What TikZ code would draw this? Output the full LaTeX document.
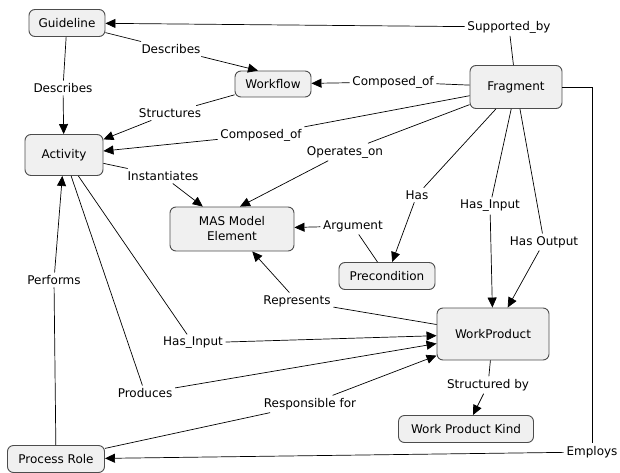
\documentclass[tikz,border=0pt]{standalone}
\usepackage{fontspec}
\setmainfont{DejaVu Sans}
\usetikzlibrary{arrows.meta}

\begin{document}
\begin{tikzpicture}[x=1pt, y=-1pt,
    concept/.style={rectangle, rounded corners=6pt, draw=black!70, line width=0.9pt, fill=black!6, align=center, inner sep=2pt},
    linkname/.style={inner sep=2.5pt},
    font=\fontsize{12}{15}\selectfont,
    every path/.style={line width=0.7pt},
    >={Triangle[length=10pt,width=9pt]}]
    \useasboundingbox (0,0) rectangle (620,473);

    % Draw nodes
    \node[concept, minimum width=76pt, minimum height=27pt] (gl) at (67,23) {Guideline};
    \node[concept, minimum width=76pt, minimum height=26pt] (wf) at (273,84) {Workflow};
    \node[concept, minimum width=92pt, minimum height=43pt] (fr) at (516,87) {Fragment};
    \node[concept, minimum width=78pt, minimum height=41pt] (act) at (64,155) {Activity};
    \node[concept, minimum width=124pt, minimum height=44pt] (mas) at (232,229) {MAS Model\\Element};
    \node[concept, minimum width=96pt, minimum height=27pt] (pre) at (387,276) {Precondition};
    \node[concept, minimum width=112pt, minimum height=52pt] (wp) at (493,334) {WorkProduct};
    \node[concept, minimum width=135pt, minimum height=27pt] (wpk) at (466,429) {Work Product Kind};
    \node[concept, minimum width=97pt, minimum height=27pt] (pr) at (56,459) {Process Role};

    % Labels
    \node[linkname] (supBy) at (509,27) {Supported\_by};
    \node[linkname] (desWf) at (171,49) {Describes};
    \node[linkname] (desAct) at (63,88) {Describes};
    \node[linkname] (compWf) at (393,82) {Composed\_of};
    \node[linkname] (struct) at (170,113) {Structures};
    \node[linkname] (compAct) at (261,135) {Composed\_of};
    \node[linkname] (oper) at (345,152) {Operates\_on};
    \node[linkname] (inst) at (163,176) {Instantiates};
    \node[linkname] (has) at (417,195) {Has};
    \node[linkname] (hasIn) at (490,206) {Has\_Input};
    \node[linkname] (hasOut) at (544,242) {Has Output};
    \node[linkname] (arg) at (353,226) {Argument};
    \node[linkname] (rep) at (297,301) {Represents};
    \node[linkname] (actIn) at (193,343) {Has\_Input};
    \node[linkname] (prod) at (145,393) {Produces};
    \node[linkname] (resp) at (310,404) {Responsible for};
    \node[linkname] (perf) at (54,280) {Performs};
    \node[linkname] (strBy) at (488,385) {Structured by};
    \node[linkname] (emp) at (592,452) {Employs};

    % Draw connections
    \draw (fr) -- (supBy);
    \draw[->] (supBy) -- (gl);
    \draw (gl) -- (desWf);
    \draw[->] (desWf) -- ([xshift=-15pt]wf.north);
    \draw (gl) -- (desAct);
    \draw[->] (desAct) -- (act);
    \draw (fr) -- (compWf);
    \draw[->] (compWf) -- (wf);
    \draw (wf) -- (struct);
    \draw[->] (struct) -- (act);
    \draw (fr) -- (compAct);
    \draw[->] (compAct) -- (act);
    \draw (fr) -- (oper);
    \draw[->] (oper) -- ([xshift=8pt]mas.north);
    \draw (act) -- (inst);
    \draw[->] (inst) -- (mas);
    \draw (fr) -- (has);
    \draw[->] (has) -- (pre);
    \draw (fr) -- (hasIn);
    \draw[->] (hasIn) -- (wp);
    \draw (fr) -- (hasOut);
    \draw[->] (hasOut) -- (wp);
    \draw (pre) -- (arg);
    \draw[->] (arg) -- (mas);
    \draw (wp) -- (rep);
    \draw[->] (rep) -- (mas);
    \draw (act) -- (actIn);
    \draw[->] (actIn) -- (wp);
    \draw (act) -- (prod);
    \draw[->] (prod) -- (wp);
    \draw (pr) -- (resp);
    \draw[->] (resp) -- (wp);
    \draw (pr) -- (perf);
    \draw[->] (perf) -- (act);
    \draw (wp) -- (strBy);
    \draw[->] (strBy) -- (wpk);
    \draw (fr.east) -| (emp.north);
    \draw[->] (emp) -- (pr);
\end{tikzpicture}
\end{document}
